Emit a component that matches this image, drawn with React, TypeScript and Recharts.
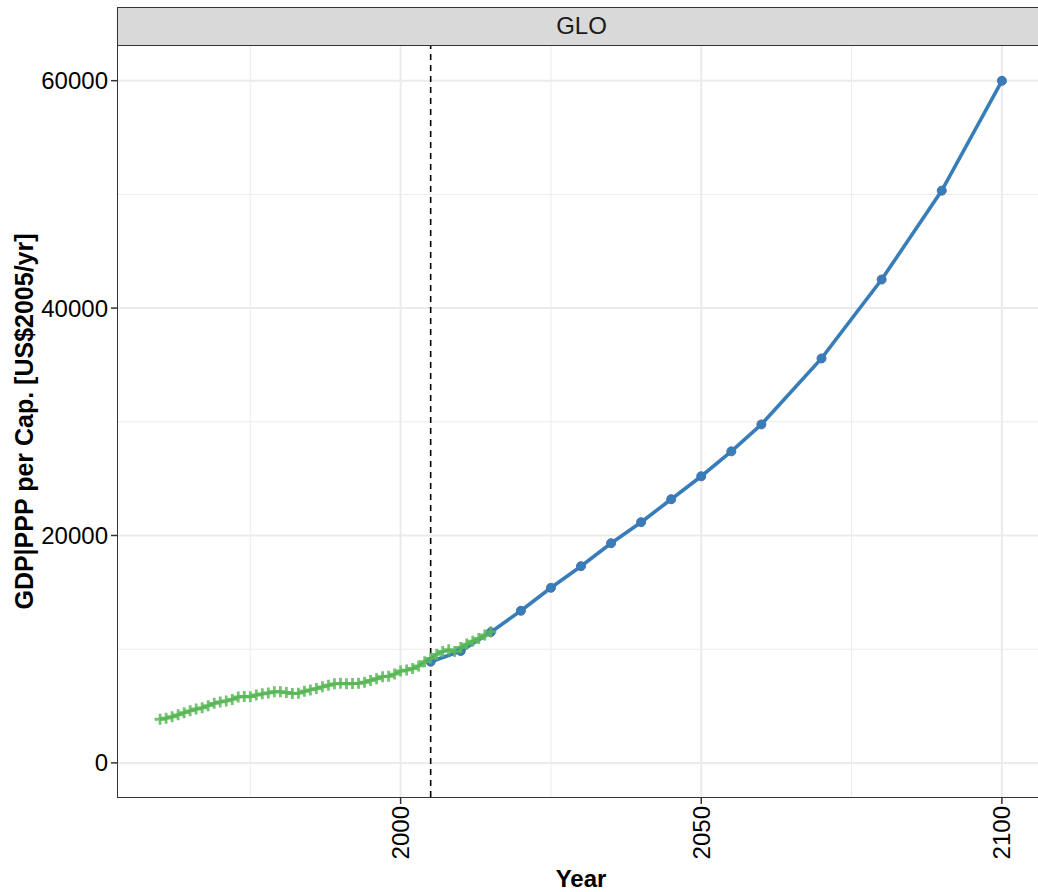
import { ComposedChart, Line, XAxis, YAxis, ReferenceLine } from 'recharts';

// historical series (green, yearly)
const histYears = [
  1960, 1961, 1962, 1963, 1964, 1965, 1966, 1967, 1968, 1969,
  1970, 1971, 1972, 1973, 1974, 1975, 1976, 1977, 1978, 1979,
  1980, 1981, 1982, 1983, 1984, 1985, 1986, 1987, 1988, 1989,
  1990, 1991, 1992, 1993, 1994, 1995, 1996, 1997, 1998, 1999,
  2000, 2001, 2002, 2003, 2004, 2005, 2006, 2007, 2008, 2009,
  2010, 2011, 2012, 2013, 2014, 2015,
];
const histValues = [
  3840, 3930, 4060, 4230, 4420, 4580, 4740, 4840, 5030, 5240,
  5360, 5450, 5580, 5800, 5830, 5820, 5970, 6070, 6150, 6260,
  6250, 6190, 6100, 6130, 6300, 6420, 6540, 6690, 6830, 6950,
  7000, 6950, 6980, 7000, 7090, 7250, 7400, 7580, 7620, 7810,
  8080, 8160, 8300, 8530, 8900, 9200, 9550, 9800, 9950, 9800,
  10150, 10450, 10700, 10950, 11250, 11530,
];

// scenario series (blue)
const projYears = [2005, 2010, 2015, 2020, 2025, 2030, 2035, 2040, 2045, 2050, 2055, 2060, 2070, 2080, 2090, 2100];
const projValues = [8900, 9840, 11500, 13380, 15400, 17300, 19320, 21170, 23190, 25210, 27400, 29770, 35570, 42510, 50330, 59990];

const xTicks = [2000, 2050, 2100];
const yTicks = [0, 20000, 40000, 60000];
const xMinor = [1975, 2025, 2075];
const yMinor = [10000, 30000, 50000];

const histData = histYears.map((year, i) => ({ year, value: histValues[i] }));
const projData = projYears.map((year, i) => ({ year, value: projValues[i] }));

const FONT = '"Liberation Sans", Arial, sans-serif';
const GREEN = '#4daf4a';
const BLUE = '#377eb8';
const GRID = '#ebebeb';

function PlusDot(props: any) {
  const { cx, cy, index } = props;
  if (cx == null || cy == null) return null;
  const s = 5.5;
  return (
    <path
      key={`plus-${index}`}
      d={`M${cx - s},${cy}H${cx + s}M${cx},${cy - s}V${cy + s}`}
      stroke="#5cb85a"
      strokeOpacity={0.85}
      strokeWidth={2.8}
      fill="none"
    />
  );
}

function XTick(props: any) {
  const { x, y, payload } = props;
  return (
    <text
      x={x}
      y={y}
      transform={`rotate(-90, ${x}, ${y})`}
      textAnchor="end"
      dominantBaseline="central"
      fontSize={24}
      fontFamily={FONT}
      fill="#000"
    >
      {payload.value}
    </text>
  );
}

function YearLabel(props: any) {
  const { viewBox } = props;
  if (!viewBox) return null;
  return (
    <text
      x={viewBox.x + viewBox.width / 2}
      y={viewBox.y + viewBox.height - 5}
      textAnchor="middle"
      fontSize={24}
      fontWeight="bold"
      fontFamily={FONT}
      fill="#000"
    >
      Year
    </text>
  );
}

export default function App() {
  return (
    <div style={{ position: 'absolute', left: 0, top: 0, width: 1038, height: 892, overflow: 'hidden', background: '#fff' }}>
      <ComposedChart width={1046} height={892} margin={{ top: 46, right: 2, left: 0, bottom: 0 }}>
        <XAxis
          dataKey="year"
          type="number"
          domain={[1953, 2107]}
          ticks={xTicks}
          allowDataOverflow
          axisLine={false}
          tickLine={{ stroke: '#333', strokeWidth: 1.5 }}
          tickSize={7}
          tickMargin={2}
          tick={<XTick />}
          height={95}
          label={<YearLabel />}
        />
        <YAxis
          type="number"
          domain={[-3000, 63050]}
          ticks={yTicks}
          allowDataOverflow
          axisLine={false}
          tickLine={{ stroke: '#333', strokeWidth: 1.5 }}
          tickSize={7}
          tickMargin={3}
          width={118}
          tick={{ fontSize: 24, fill: '#000', fontFamily: FONT }}
          label={{ value: 'GDP|PPP per Cap. [US$2005/yr]', angle: -90, position: 'insideLeft', offset: 24, style: { textAnchor: 'middle', fontSize: 25, fontWeight: 'bold', fill: '#000', fontFamily: FONT } }}
        />
        {xMinor.map((v) => (
          <ReferenceLine key={`xm-${v}`} x={v} stroke={GRID} strokeWidth={1} />
        ))}
        {yMinor.map((v) => (
          <ReferenceLine key={`ym-${v}`} y={v} stroke={GRID} strokeWidth={1} />
        ))}
        {xTicks.map((v) => (
          <ReferenceLine key={`x-${v}`} x={v} stroke={GRID} strokeWidth={2} />
        ))}
        {yTicks.map((v) => (
          <ReferenceLine key={`y-${v}`} y={v} stroke={GRID} strokeWidth={2} />
        ))}
        <ReferenceLine x={2005} stroke="#000" strokeWidth={1.6} strokeDasharray="6 5" />
        <Line
          data={projData}
          dataKey="value"
          stroke={BLUE}
          strokeWidth={3.6}
          dot={{ r: 4.5, fill: BLUE, stroke: '#4a6fb0', strokeWidth: 1 }}
          isAnimationActive={false}
        />
        <Line
          data={histData}
          dataKey="value"
          stroke={GREEN}
          strokeWidth={3}
          dot={<PlusDot />}
          isAnimationActive={false}
        />
      </ComposedChart>
      <div
        style={{
          position: 'absolute', left: 117, top: 45, width: 940, height: 753,
          border: '1.5px solid #333', boxSizing: 'border-box', pointerEvents: 'none',
        }}
      />
      <div
        style={{
          position: 'absolute', left: 117, top: 7, width: 940, height: 39,
          border: '1.5px solid #333', boxSizing: 'border-box', background: '#d9d9d9',
          fontFamily: FONT, fontSize: 24, color: '#1a1a1a', lineHeight: '36px',
        }}
      >
        <div style={{ position: 'absolute', left: 0, width: 927, textAlign: 'center', top: 0 }}>GLO</div>
      </div>
    </div>
  );
}
